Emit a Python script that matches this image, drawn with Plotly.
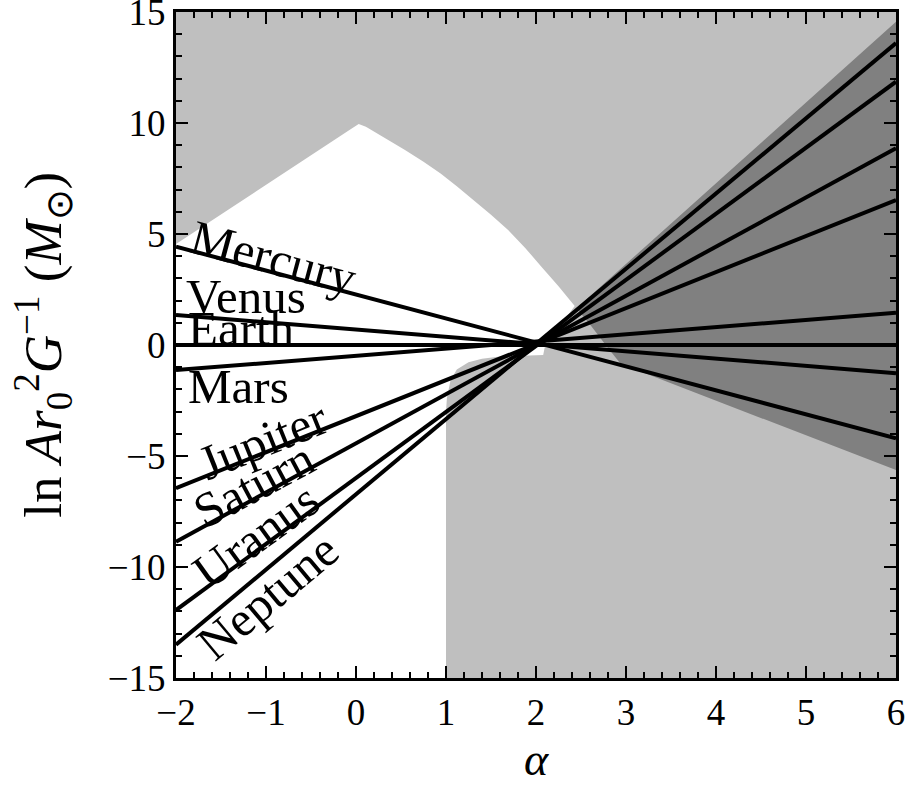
import plotly.graph_objects as go

# Planet lines: value at alpha=-2 and alpha=6
planets = ["Mercury", "Venus", "Earth", "Mars", "Jupiter", "Saturn", "Uranus", "Neptune"]
y_at_left = [4.43, 1.35, 0.0, -1.13, -6.45, -8.86, -11.94, -13.5]
y_at_right = [-4.2, -1.27, 0.0, 1.45, 6.53, 8.86, 11.86, 13.6]
x_ends = [-2, 6]

# Label placement (data coords) and rotation
label_x = [-0.92, -1.22, -1.28, -1.31, -1.04, -1.13, -1.11, -0.98]
label_y = [3.92, 2.2, 0.73, -1.85, -4.28, -6.3, -8.56, -11.35]
label_angle = [15, 0, 0, 0, -22, -28, -36, -40]

# White (allowed) region outline
white_x = [-2, -2, -0.06, 0.03, 0.11, 0.3, 0.54, 0.75, 0.94, 1.12, 1.31, 1.5, 1.69,
           1.88, 2.06, 2.25, 2.43, 2.15, 2.1, 2.08, 1.6, 1.4, 1.25, 1.12, 1.05, 1.01, 1.0, 1.0]
white_y = [-15, 4.55, 9.72, 9.95, 9.83, 9.38, 8.8, 8.25, 7.73, 7.15, 6.53, 5.87, 5.18,
           4.37, 3.53, 2.65, 1.76, 0.25, -0.05, -0.45, -0.52, -0.62, -0.78, -1.1, -1.6, -2.4,
           -3.0, -15]

# Dark wedge outline
dark_x = [2.45, 6, 6, 2.94, 2.8, 2.6]
dark_y = [1.65, 14.56, -5.63, -0.85, -0.14, 0.92]

fig = go.Figure()
fig.add_trace(go.Scatter(x=white_x, y=white_y, fill="toself", fillcolor="white",
                         line=dict(width=0), mode="lines", hoverinfo="skip"))
fig.add_trace(go.Scatter(x=dark_x, y=dark_y, fill="toself", fillcolor="#808080",
                         line=dict(width=0), mode="lines", hoverinfo="skip"))
for name, y0, y1 in zip(planets, y_at_left, y_at_right):
    fig.add_trace(go.Scatter(x=x_ends, y=[y0, y1], mode="lines", name=name,
                             line=dict(color="black", width=4)))

for name, lx, ly, ang in zip(planets, label_x, label_y, label_angle):
    fig.add_annotation(x=lx, y=ly, text=name, showarrow=False, textangle=ang,
                       font=dict(family="Liberation Serif", size=49, color="black"),
                       xanchor="center", yanchor="middle")

fig.add_annotation(xref="paper", yref="paper", x=-0.185, y=0.5, textangle=-90,
                   text="ln <i>Ar</i><sub>0</sub><sup>2</sup><i>G</i><sup>−1</sup> (<i>M</i><sub>⊙</sub>)",
                   showarrow=False, font=dict(family="Liberation Serif", size=53, color="black"),
                   xanchor="center", yanchor="middle")
fig.add_annotation(xref="paper", yref="paper", x=0.5, y=-0.123, text="<i>α</i>",
                   showarrow=False, font=dict(family="Liberation Serif", size=46, color="black"),
                   xanchor="center", yanchor="middle")

axis_common = dict(showgrid=False, zeroline=False, showline=True, linewidth=3,
                   linecolor="black", mirror="allticks", ticks="inside", ticklen=12,
                   tickwidth=2, tickcolor="black", ticklabeloverflow="allow",
                   automargin=False,
                   tickfont=dict(family="Liberation Serif", size=37, color="black"))
fig.update_xaxes(range=[-2, 6], dtick=1, tick0=0,
                 minor=dict(dtick=0.2, ticks="inside", ticklen=6, tickwidth=1.5, tickcolor="black"),
                 **axis_common)
fig.update_yaxes(range=[-15, 15], dtick=5, tick0=0,
                 minor=dict(dtick=1, ticks="inside", ticklen=6, tickwidth=1.5, tickcolor="black"),
                 **axis_common)
fig.update_layout(width=906, height=786, showlegend=False,
                  plot_bgcolor="#bfbfbf", paper_bgcolor="white",
                  margin=dict(l=176, r=10, t=12, b=108))
fig.write_html("out.html", config={"displayModeBar": False},
               post_script="document.body.style.margin='0';document.body.style.overflow='hidden';")
